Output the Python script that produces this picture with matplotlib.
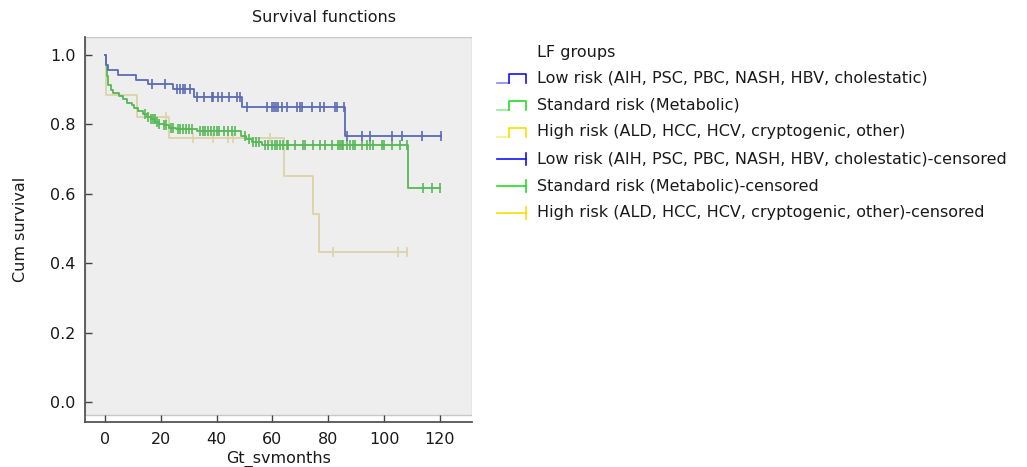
import numpy as np
import matplotlib
matplotlib.use("Agg")
import matplotlib.pyplot as plt
from matplotlib.patches import Rectangle

plt.rcParams['font.family'] = ['DejaVu Sans']

# --- dati (mesi, sopravvivenza cumulativa) ---
low_event_t = [0.5, 1.2, 4.8, 11.0, 15.5, 24.3, 31.8, 49.0, 86.0]
low_event_s = [0.971, 0.957, 0.942, 0.928, 0.916, 0.901, 0.878, 0.851, 0.767]
low_censor_t = [17.0, 21.5, 25.7, 27.0, 27.8, 28.5, 30.5,
                32.9, 35.5, 38.2, 38.8, 40.6, 41.8, 44.5, 47.2, 48.4,
                50.8, 58.0, 59.8, 60.6, 61.3, 62.1, 63.3, 65.1, 68.7, 69.9,
                70.5, 74.1, 77.1, 78.5, 82.4, 83.0, 85.7,
                86.6, 92.0, 95.0, 102.7, 106.3, 113.5, 120.3]

std_event_t = [0.3, 0.6, 1.0, 2.0, 3.0, 5.0, 6.5, 8.0, 9.5, 10.5, 12.0, 13.5,
               15.0, 16.5, 18.0, 19.5, 21.0, 23.0, 25.5, 33.0, 48.7, 50.5,
               52.6, 56.2, 108.7]
std_event_s = [0.97, 0.94, 0.915, 0.90, 0.89, 0.882, 0.872, 0.863, 0.855, 0.848,
               0.838, 0.829, 0.822, 0.815, 0.808, 0.802, 0.797, 0.790, 0.786,
               0.780, 0.767, 0.758, 0.750, 0.741, 0.616]
std_censor_t = [14.5, 15.5, 16.5, 17.2, 17.8, 18.5, 19.5, 21.0, 22.0, 23.5, 24.5,
                26.0, 27.0, 28.0, 29.0, 30.0, 31.0, 34.0, 35.0, 36.0, 37.0, 38.0,
                39.0, 40.0, 41.0, 42.5, 44.0, 45.5, 46.5, 50.0, 51.5, 53.0, 54.0,
                55.0, 57.3, 58.5, 59.7, 60.9, 61.5, 62.7, 63.9, 65.1, 65.7, 68.1,
                71.1, 71.7, 74.7, 77.1, 78.9, 81.3, 83.6, 84.2, 84.8, 85.4, 86.6,
                87.8, 89.0, 89.6, 92.0, 93.8, 95.0, 96.2, 99.2, 99.8, 102.8,
                105.7, 108.2, 114.0, 117.3, 120.0]

high_event_t = [0.4, 11.5, 23.0, 64.3, 74.7, 76.5]
high_event_s = [0.885, 0.822, 0.760, 0.651, 0.542, 0.433]
high_censor_t = [22.0, 31.5, 38.6, 44.2, 46.0, 59.1, 81.8, 105.1, 108.1]

group_labels = ['Low risk (AIH, PSC, PBC, NASH, HBV, cholestatic)',
                'Standard risk (Metabolic)',
                'High risk (ALD, HCC, HCV, cryptogenic, other)']
legend_title = 'LF groups'

line_colors = ['#5a6bb5', '#55b855', '#dcd3a6']
icon_colors = ['#1010ff', '#22dd22', '#f5e000']

xticks = [0, 20, 40, 60, 80, 100, 120]
yticks = [0.0, 0.2, 0.4, 0.6, 0.8, 1.0]


def km_curve(ax, ev_t, ev_s, cens_t, color):
    cens_t = np.array(cens_t)
    end_t = max(cens_t.max(), ev_t[-1])
    t = np.concatenate([[0.0], ev_t, [end_t]])
    s = np.concatenate([[1.0], ev_s, [ev_s[-1]]])
    ax.step(t, s, where='post', color=color, lw=1.3)
    # valore della curva al tempo di censura
    idx = np.searchsorted(np.array(ev_t), cens_t, side='right')
    s_c = np.concatenate([[1.0], ev_s])[idx]
    ax.plot(cens_t, s_c, ls='none', marker='|', ms=7, mew=1.2, color=color)


fig = plt.figure(figsize=(10.27, 4.67), dpi=100)
ax = fig.add_axes([85 / 1027, 45 / 467, 387 / 1027, 385 / 467])
ax.set_facecolor('white')

# area grigia dei dati (finisce sopra l'asse x)
ax.add_patch(Rectangle((0, 7 / 385), 1, 1 - 7 / 385, transform=ax.transAxes,
                       facecolor='#eeeeee', edgecolor='#c8c8c8', lw=1, zorder=0))

km_curve(ax, high_event_t, high_event_s, high_censor_t, line_colors[2])
km_curve(ax, std_event_t, std_event_s, std_censor_t, line_colors[1])
km_curve(ax, low_event_t, low_event_s, low_censor_t, line_colors[0])

ax.set_xlim(-7.17, 131.5)
ax.set_ylim(-0.0576, 1.0519)
ax.set_xticks(xticks)
ax.set_yticks(yticks)
ax.set_yticklabels([f'{v:.1f}' for v in yticks])
ax.tick_params(direction='in', length=5, width=1, colors='#444444',
               labelcolor='#1a1a1a', labelsize=11.5, pad=7)
for side in ['top', 'right']:
    ax.spines[side].set_visible(False)
for side in ['left', 'bottom']:
    ax.spines[side].set_color('#555555')
    ax.spines[side].set_linewidth(1.3)

ax.set_xlabel('Gt_svmonths', fontsize=11.5, color='#1a1a1a', labelpad=3)
ax.set_ylabel('Cum survival', fontsize=11.5, color='#1a1a1a', labelpad=16)
fig.text(324.5 / 1027, 1 - 18 / 467, 'Survival functions', ha='center',
         va='center', fontsize=11.5, color='#1a1a1a')

# legenda disegnata a mano (icone a gradino e con tacca di censura)
lax = fig.add_axes([0, 0, 1, 1])
lax.set_xlim(0, 1027)
lax.set_ylim(467, 0)
lax.axis('off')
lax.text(537, 52, legend_title, va='center', ha='left', fontsize=11.5,
         color='#1a1a1a')
row_y = 78
for i in range(3):
    c = icon_colors[i]
    lax.plot([497, 509], [row_y + 5, row_y + 5], color=c, lw=1.2, alpha=0.5)
    lax.plot([509, 509, 526, 526], [row_y + 5, row_y - 4, row_y - 4, row_y + 5],
             color=c, lw=1.2)
    lax.text(537, row_y, group_labels[i], va='center', ha='left',
             fontsize=11.5, color='#1a1a1a')
    row_y += 26.9
for i in range(3):
    c = icon_colors[i]
    lax.plot([497, 526], [row_y, row_y], color=c, lw=1.2)
    lax.plot([526, 526], [row_y - 6, row_y + 6], color=c, lw=1.2)
    lax.text(537, row_y, group_labels[i] + '-censored', va='center',
             ha='left', fontsize=11.5, color='#1a1a1a')
    row_y += 26.9

fig.savefig('out.png', dpi=100)
